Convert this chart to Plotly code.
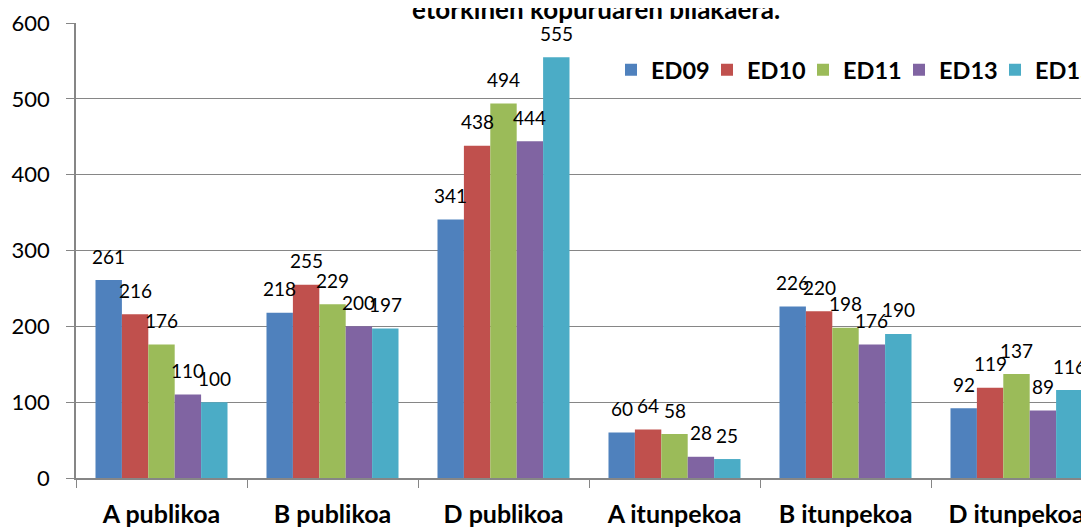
import plotly.graph_objects as go

categories = ["A publikoa", "B publikoa", "D publikoa", "A itunpekoa", "B itunpekoa", "D itunpekoa"]
series_names = ["ED09", "ED10", "ED11", "ED13", "ED15"]
ed09 = [261, 218, 341, 60, 226, 92]
ed10 = [216, 255, 438, 64, 220, 119]
ed11 = [176, 229, 494, 58, 198, 137]
ed13 = [110, 200, 444, 28, 176, 89]
ed15 = [100, 197, 555, 25, 190, 116]
series_values = [ed09, ed10, ed11, ed13, ed15]
colors = ["#4F81BD", "#C0504D", "#9BBB59", "#8064A2", "#4BACC6"]
y_ticks = [0, 100, 200, 300, 400, 500, 600]
title_text = "etorkinen kopuruaren bilakaera."

FONT = "Lato"
bargap = 0.228

fig = go.Figure()
for name, vals, col in zip(series_names, series_values, colors):
    fig.add_trace(go.Bar(name="<b>" + name + "</b>", x=categories, y=vals, marker_color=col,
                         marker_line_width=0))

# data labels above each bar, positioned via category serial numbers
n = len(series_names)
w = (1 - bargap) / n
annotations = []
for i, vals in enumerate(series_values):
    for j, v in enumerate(vals):
        annotations.append(dict(x=j + (i - (n - 1) / 2) * w, y=v, xref="x", yref="y",
                                text=str(v), showarrow=False, yanchor="middle", yshift=24,
                                font=dict(family=FONT, size=19, color="#000")))
annotations.append(dict(x=0.509, y=1, xref="paper", yref="paper", xanchor="center",
                        yanchor="bottom", yshift=-4, showarrow=False,
                        text="<b>" + title_text + "</b>",
                        font=dict(family=FONT, size=26, color="#000")))

fig.update_layout(
    width=1089, height=527,
    margin=dict(l=68, r=0, t=15, b=57, autoexpand=False),
    paper_bgcolor="white", plot_bgcolor="white",
    barmode="group", bargap=bargap, bargroupgap=0,
    legend=dict(orientation="h", x=0.524, xanchor="left", y=0.897, yanchor="middle",
                font=dict(family=FONT, size=23.5, color="#000"), bgcolor="rgba(0,0,0,0)",
                itemwidth=30, traceorder="normal", entrywidth=51),
    annotations=annotations,
    showlegend=True,
)

fig.update_yaxes(range=[0, 600], tickvals=y_ticks, showgrid=True, gridcolor="#868686", gridwidth=1,
                 showline=True, linecolor="#868686", linewidth=1.5, ticks="outside", ticklen=8,
                 tickcolor="#868686", tickfont=dict(family=FONT, size=22, color="#000"),
                 zeroline=False, ticklabelstandoff=12, automargin=False)
fig.update_xaxes(range=[-0.5, 5.5 - 5 / 171], tickson="boundaries", ticks="outside", ticklen=8,
                 tickcolor="#868686", showline=True, linecolor="#868686", linewidth=1.5,
                 tickvals=categories, ticktext=["<b>" + c + "</b>" for c in categories],
                 tickfont=dict(family=FONT, size=25, color="#000"), ticklabelstandoff=13,
                 automargin=False)

fig.write_html("out.html")
